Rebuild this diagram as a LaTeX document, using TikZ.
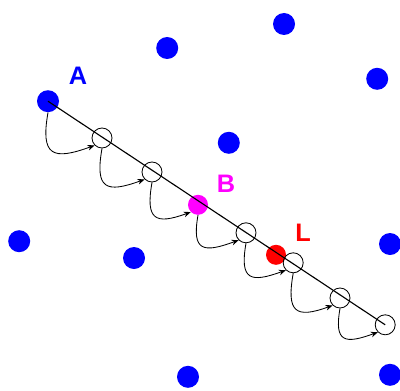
\documentclass[tikz,border=0pt]{standalone}
\usepackage{fontspec}
\setmainfont{Liberation Sans}
\usetikzlibrary{arrows.meta}

\definecolor{siteblue}{RGB}{0,0,255}
\definecolor{sitepink}{RGB}{255,0,255}
\definecolor{sitered}{RGB}{255,0,0}

\tikzset{
    site/.style={circle,fill=siteblue,inner sep=0pt,minimum size=0.55cm},
    hole/.style={circle,draw=black,line width=0.6pt,inner sep=0pt,minimum size=0.5cm},
    hop/.style={->,line width=0.6pt,out=-100,in=200,looseness=2},
    tag/.style={font=\fontsize{18}{18}\selectfont\bfseries},
}

\begin{document}
\begin{tikzpicture}[>={Stealth[length=5pt,width=4pt]}]
    \useasboundingbox (0,0) rectangle (10,9.75);

    % lattice
    \node[site] (A)  at (1.20,7.22) {};
    \node[site] (p1) at (4.18,8.55) {};
    \node[site] (p2) at (7.10,9.15) {};
    \node[site] (p3) at (9.43,7.78) {};
    \node[site] (p4) at (5.72,6.18) {};
    \node[site] (p5) at (0.48,3.72) {};
    \node[site] (p6) at (3.35,3.30) {};
    \node[site] (p7) at (9.75,3.65) {};
    \node[site] (p8) at (4.70,0.33) {};
    \node[site] (p9) at (9.75,0.38) {};

    % steps along the line
    \node[hole] (c1) at (2.55,6.30) {};
    \node[hole] (c2) at (3.80,5.45) {};
    \node[site,fill=sitepink,minimum size=0.5cm] (B) at (4.95,4.63) {};
    \node[hole] (c3) at (6.15,3.93) {};
    \node[site,fill=sitered,minimum size=0.5cm]  (L) at (6.90,3.38) {};
    \node[hole] (c4) at (7.33,3.18) {};
    \node[hole] (c5) at (8.50,2.30) {};
    \node[hole] (c6) at (9.63,1.63) {};

    \draw[line width=0.8pt] (A.center) -- (c6.center);

    \draw[hop] (A.south)  to (c1.south west);
    \draw[hop] (c1.south) to (c2.south west);
    \draw[hop] (c2.south) to (B.south west);
    \draw[hop] (B.south)  to (c3.south west);
    \draw[hop] (c3.south) to (c4.south west);
    \draw[hop] (c4.south) to (c5.south west);
    \draw[hop] (c5.south) to (c6.south west);

    \node[tag,siteblue] (labA) at (1.95,7.85) {A};
    \node[tag,sitepink] (labB) at (5.65,5.15) {B};
    \node[tag,sitered]  (labL) at (7.58,3.93) {L};
\end{tikzpicture}
\end{document}
